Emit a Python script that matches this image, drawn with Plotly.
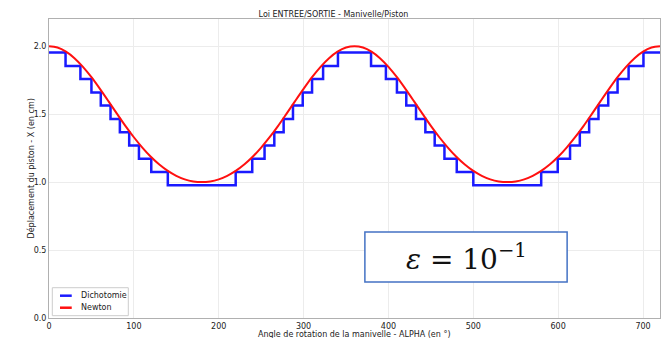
import plotly.graph_objects as go

# Newton curve (piston displacement, cm) sampled every 10 degrees
newton_alpha = list(range(0, 721, 10))
newton_half = [2.000, 1.990, 1.960, 1.912, 1.848, 1.772, 1.686, 1.596, 1.504, 1.414,
               1.330, 1.254, 1.186, 1.129, 1.082, 1.046, 1.020, 1.005, 1.000]
newton_period = newton_half + newton_half[-2::-1]          # 0..360
newton_x = newton_period + newton_period[1:]               # 0..720

# Dichotomy result (step function): breakpoints (deg) and levels (cm)
dicho_alpha = [0, 19.5, 37, 50, 61, 72.5, 83.5, 94.5, 106, 120.5, 140,
               220, 239.5, 254, 265.5, 276.5, 287.5, 299, 310, 323, 340.5,
               379.5, 397, 410, 421, 432.5, 443.5, 454.5, 466, 480.5, 500,
               580, 599.5, 614, 625.5, 636.5, 647.5, 659, 670, 683, 700.5, 720]
dicho_x = [1.953, 1.855, 1.758, 1.660, 1.563, 1.465, 1.367, 1.270, 1.172, 1.074, 0.977,
           1.074, 1.172, 1.270, 1.367, 1.465, 1.563, 1.660, 1.758, 1.855, 1.953,
           1.855, 1.758, 1.660, 1.563, 1.465, 1.367, 1.270, 1.172, 1.074, 0.977,
           1.074, 1.172, 1.270, 1.367, 1.465, 1.563, 1.660, 1.758, 1.855, 1.953, 1.953]

x_ticks = [0, 100, 200, 300, 400, 500, 600, 700]
y_ticks = [0.0, 0.5, 1.0, 1.5, 2.0]

BLUE = "#1a1aff"
RED = "#ff1010"

fig = go.Figure()
fig.add_trace(go.Scatter(x=dicho_alpha, y=dicho_x, mode="lines", name="Dichotomie",
                         line=dict(color=BLUE, width=2.5, shape="hv")))
fig.add_trace(go.Scatter(x=newton_alpha, y=newton_x, mode="lines", name="Newton",
                         line=dict(color=RED, width=2, shape="spline")))

axis_common = dict(showgrid=True, gridcolor="#ececec", gridwidth=1,
                   showline=True, linecolor="#b0b0b0", linewidth=1, mirror=True,
                   ticks="", zeroline=False, automargin=False,
                   tickfont=dict(size=8, color="#222"))

fig.update_layout(
    width=667, height=338,
    margin=dict(l=49, r=7, t=19, b=20),
    paper_bgcolor="white", plot_bgcolor="white",
    font=dict(family="DejaVu Sans", size=8, color="#222"),
    title=dict(text="Loi ENTREE/SORTIE - Manivelle/Piston", x=0.5, xanchor="center",
               yref="container", y=1 - 17 / 338, yanchor="bottom",
               font=dict(size=8, color="#222")),
    xaxis=dict(range=[0, 720], tickvals=x_ticks, **axis_common),
    yaxis=dict(range=[0, 2.2], tickvals=y_ticks, tickformat=".1f", **axis_common),
    showlegend=False,
)

# Axis titles
fig.add_annotation(xref="paper", yref="paper", x=0.5, y=0, yshift=-10,
                   text="Angle de rotation de la manivelle - ALPHA (en °)",
                   showarrow=False, xanchor="center", yanchor="top",
                   font=dict(size=8, color="#222"))
fig.add_annotation(xref="paper", yref="paper", x=0, xshift=-19, y=0.5,
                   text="Déplacement du piston - X (en cm)", textangle=-90,
                   showarrow=False, xanchor="center", yanchor="middle",
                   font=dict(size=8, color="#222"))

# Legend (drawn manually to match compact box)
fig.add_shape(type="rect", xref="paper", yref="paper", x0=0.0054, x1=0.1298,
              y0=0.0077, y1=0.1013, line=dict(color="#cccccc", width=1),
              fillcolor="rgba(255,255,255,0.9)", layer="above")
for name, color, ly in [("Dichotomie", BLUE, 0.0746), ("Newton", RED, 0.0344)]:
    fig.add_shape(type="line", xref="paper", yref="paper", x0=0.018, x1=0.0372,
                  y0=ly, y1=ly, line=dict(color=color, width=2.5), layer="above")
    fig.add_annotation(xref="paper", yref="paper", x=0.049, y=ly, text=name,
                       showarrow=False, xanchor="left", yanchor="middle",
                       font=dict(size=8, color="#222"))

# Epsilon box
fig.add_shape(type="rect", xref="paper", yref="paper",
              x0=0.517, x1=0.848, y0=0.12, y1=0.288,
              line=dict(color="#4472c4", width=1.5), fillcolor="white", layer="above")
fig.add_annotation(xref="paper", yref="paper", x=0.6825, y=0.204,
                   text="<i>ε</i> = 10<sup>−1</sup>", showarrow=False,
                   font=dict(family="DejaVu Serif", size=28, color="#111"),
                   xanchor="center", yanchor="middle")

fig.write_html("out.html", config={"displayModeBar": False},
               post_script="document.body.style.margin='0px';")
